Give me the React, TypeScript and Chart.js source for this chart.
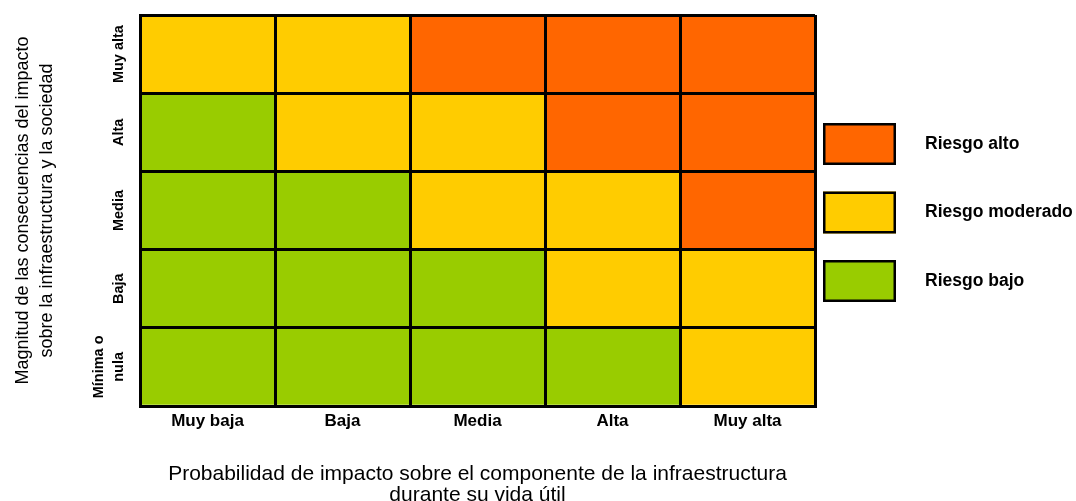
import React, { useEffect, useRef } from "react";
import { Chart, registerables } from "chart.js";

Chart.register(...registerables);

const FONT = '"Liberation Sans", Arial, Helvetica, sans-serif';

// Columns: probability of impact
const probabilityLabels = ["Muy baja", "Baja", "Media", "Alta", "Muy alta"];
// Rows: magnitude of consequences (bottom to top)
const magnitudeLabels: (string | string[])[] = [["Mínima o", "nula"], "Baja", "Media", "Alta", "Muy alta"];

// Risk level for each cell, one array per row (bottom to top), one entry per column
const rowMinima = ["bajo", "bajo", "bajo", "bajo", "moderado"];
const rowBaja = ["bajo", "bajo", "bajo", "moderado", "moderado"];
const rowMedia = ["bajo", "bajo", "moderado", "moderado", "alto"];
const rowAlta = ["bajo", "moderado", "moderado", "alto", "alto"];
const rowMuyAlta = ["moderado", "moderado", "alto", "alto", "alto"];
const riskRows = [rowMinima, rowBaja, rowMedia, rowAlta, rowMuyAlta];

const legendLabels = ["Riesgo alto", "Riesgo moderado", "Riesgo bajo"];
const legendLevels = ["alto", "moderado", "bajo"];
const riskColors: Record<string, string> = { alto: "#FF6600", moderado: "#FFCC00", bajo: "#99CC00" };

const xTitle = ["Probabilidad de impacto sobre el componente de la infraestructura", "durante su vida útil"];
const yTitle = ["Magnitud de las consecuencias del impacto", "sobre la infraestructura y la sociedad"];

const overlayPlugin = {
  id: "overlay",
  afterDraw(chart: any) {
    const { ctx, chartArea, scales } = chart;
    const y = scales.y;
    ctx.save();
    // Row (magnitude) labels, rotated
    ctx.font = `bold 14.5px ${FONT}`;
    ctx.fillStyle = "#000";
    ctx.textAlign = "center";
    ctx.textBaseline = "middle";
    magnitudeLabels.forEach((lab, i) => {
      const lines = Array.isArray(lab) ? lab : [lab];
      const cy = y.getPixelForValue(i + 0.5);
      lines.forEach((line, j) => {
        const cx = chartArea.left - 21 - (lines.length - 1 - j) * 20;
        ctx.save();
        ctx.translate(cx, cy);
        ctx.rotate(-Math.PI / 2);
        ctx.fillText(line, 0, 0);
        ctx.restore();
      });
    });
    // Legend
    const center = (chartArea.top + chartArea.bottom) / 2;
    const bx = chartArea.right + 8;
    const bw = 73;
    const bh = 42;
    legendLabels.forEach((lab, i) => {
      const top = center - 87.5 + i * 68.5;
      ctx.fillStyle = riskColors[legendLevels[i]];
      ctx.fillRect(bx, top, bw, bh);
      ctx.strokeStyle = "#000";
      ctx.lineWidth = 2.5;
      ctx.strokeRect(bx + 1.25, top + 1.25, bw - 2.5, bh - 2.5);
      ctx.fillStyle = "#000";
      ctx.font = `bold 17.5px ${FONT}`;
      ctx.textAlign = "left";
      ctx.textBaseline = "middle";
      ctx.fillText(lab, chartArea.right + 110, top + bh / 2);
    });
    ctx.restore();
  },
};

export default function App() {
  const canvasRef = useRef<HTMLCanvasElement | null>(null);

  useEffect(() => {
    if (!canvasRef.current) return;
    Chart.defaults.font.family = FONT;
    const datasets = riskRows.map((row, r) => ({
      label: Array.isArray(magnitudeLabels[r]) ? (magnitudeLabels[r] as string[]).join(" ") : (magnitudeLabels[r] as string),
      data: row.map(() => [r, r + 1]),
      backgroundColor: row.map((lvl) => riskColors[lvl]),
      borderWidth: 0,
      barPercentage: 1,
      categoryPercentage: 1,
      grouped: false,
    }));
    const chart = new Chart(canvasRef.current, {
      type: "bar",
      data: { labels: probabilityLabels, datasets: datasets as any },
      options: {
        animation: false,
        responsive: false,
        layout: { padding: { top: 15, right: 261, left: 0, bottom: 0 } },
        plugins: { legend: { display: false }, tooltip: { enabled: false } },
        scales: {
          x: {
            type: "category",
            offset: true,
            grid: { offset: true, color: "#000", lineWidth: 3, drawTicks: false, z: 1 },
            border: { display: true, color: "#000", width: 3, z: 1 },
            ticks: { font: { size: 17, weight: "bold" }, color: "#000", padding: 5, maxRotation: 0, autoSkip: false },
            title: { display: true, text: xTitle, font: { size: 21, lineHeight: 1.0 }, color: "#000", padding: { top: 0, bottom: -5 } },
            afterFit: (s: any) => {
              s.height = 95;
            },
          },
          y: {
            type: "linear",
            min: 0,
            max: 5,
            ticks: { display: false, stepSize: 1 },
            grid: { color: "#000", lineWidth: 3, drawTicks: false, z: 1 },
            border: { display: true, color: "#000", width: 3, z: 1 },
            title: { display: true, text: yTitle, font: { size: 18, lineHeight: 1.28 }, color: "#000", padding: { top: 12, bottom: 0 } },
            afterFit: (s: any) => {
              s.width = 140;
            },
          },
        },
      } as any,
      plugins: [overlayPlugin],
    });
    return () => chart.destroy();
  }, []);

  return (
    <canvas
      ref={canvasRef}
      width={1076}
      height={501}
      style={{ position: "absolute", left: 0, top: 0, width: 1076, height: 501 }}
    />
  );
}
